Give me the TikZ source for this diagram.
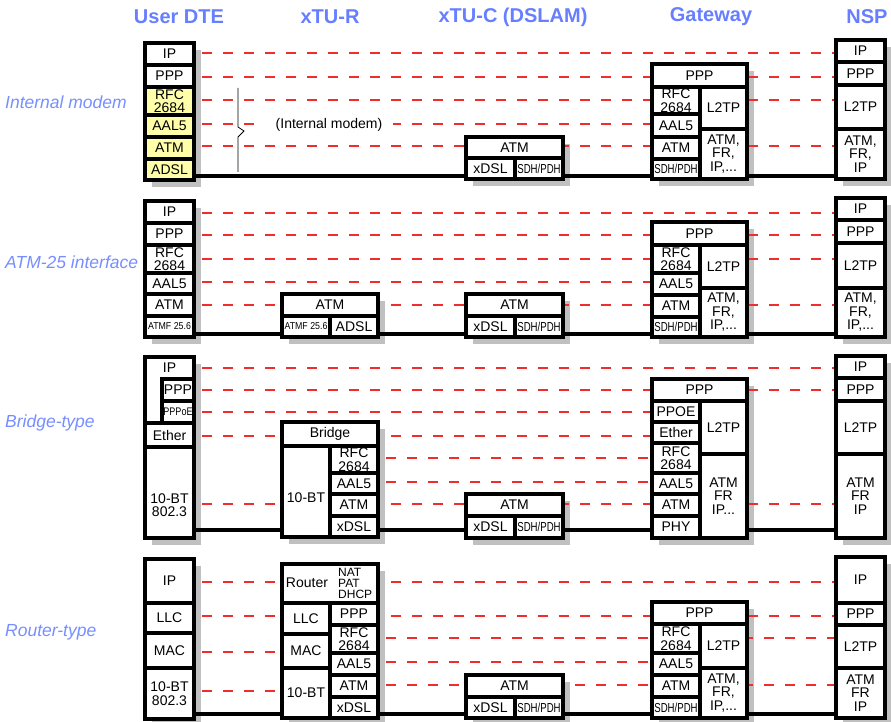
\documentclass[tikz,border=0pt]{standalone}
\usepackage{graphicx}
\usepackage{fontspec}
\setmainfont{Liberation Sans}
\usetikzlibrary{backgrounds}
\definecolor{headblue}{RGB}{102,126,255}
\definecolor{rowblue}{RGB}{118,142,255}
\definecolor{dashred}{RGB}{240,45,45}
\definecolor{shadowgray}{RGB}{192,192,192}
\definecolor{modemyellow}{RGB}{255,255,170}

% one layer of a protocol stack, given by its corners
\newcommand{\cell}[7][]{%
  \node[cell,#1,minimum width={(#5-#3)*1pt},minimum height={(#6-#4)*1pt}]
    (#2) at ({(#3+#5)/2},{(#4+#6)/2}) {#7};}
% peer relation and physical link between two stacks
\newcommand{\peer}[3]{\draw[peer] (#1.east |- 0,#3) -- (#2.west |- 0,#3);}
\newcommand{\wire}[3]{\draw[wire] (#1.east |- 0,#3) -- (#2.west |- 0,#3);}
\newcommand{\sdhpdh}{{\fontsize{13}{13}\selectfont\scalebox{0.74}[1]{SDH/PDH}}}
\newcommand{\atmf}{{\fontsize{10}{10}\selectfont\scalebox{0.88}[1]{ATMF 25.6}}}
\newcommand{\pppoe}{{\fontsize{11}{11}\selectfont\scalebox{0.82}[1]{PPPoE}}}

\begin{document}
\begin{tikzpicture}[
    x=1pt, y=-1pt,
    cell/.style={draw, line width=3.2pt, fill=white, inner sep=1pt, outer sep=0pt,
                 align=center, font=\fontsize{14}{13.5}\selectfont},
    txt/.style={inner sep=0pt, align=center, font=\fontsize{14}{13.5}\selectfont},
    head/.style={font=\fontsize{20}{20}\selectfont\bfseries, text=headblue},
    sect/.style={anchor=west, inner sep=0pt, font=\fontsize{17.5}{17.5}\selectfont\itshape, text=rowblue},
    peer/.style={draw=dashred, line width=1.2pt, dash pattern=on 10pt off 11pt, dash phase=13pt},
    wire/.style={line width=3.2pt}
]
    \useasboundingbox (0,0) rectangle (891,722);

    % Column titles
    \node[head] (hdte) at (179,17) {User DTE};
    \node[head] (hntr) at (330,17) {xTU-R};
    \node[head] (hdslam) at (513,17) {xTU-C (DSLAM)};
    \node[head] (hgw) at (711,17) {Gateway};
    \node[head] (hnsp) at (867,17) {NSP};

    % Row titles
    \node[sect] (s1) at (5,102) {Internal modem};
    \node[sect] (s2) at (5,262) {ATM-25 interface};
    \node[sect] (s3) at (5,423) {Bridge-type};
    \node[sect] (s4) at (5,632) {Router-type};

    % Internal modem
    \cell{a1ip}{145}{43}{194}{65}{IP}
    \cell{a1ppp}{145}{65}{194}{87}{PPP}
    \cell[fill=modemyellow]{a1rfc}{145}{87}{194}{115}{RFC\\2684}
    \cell[fill=modemyellow]{a1aal}{145}{115}{194}{137}{AAL5}
    \cell[fill=modemyellow]{a1atm}{145}{137}{194}{159}{ATM}
    \cell[fill=modemyellow]{a1phy}{145}{159}{194}{180}{ADSL}
    \cell{c1atm}{466}{137}{563}{158}{ATM}
    \cell{c1dsl}{466}{158}{515}{179}{xDSL}
    \cell{c1sdh}{515}{158}{563}{179}{\sdhpdh}
    \cell{g1ppp}{652}{64}{747}{87}{PPP}
    \cell{g1rfc}{652}{87}{700}{114}{RFC\\2684}
    \cell{g1aal}{652}{114}{700}{137}{AAL5}
    \cell{g1atm}{652}{137}{700}{159}{ATM}
    \cell{g1sdh}{652}{159}{700}{179}{\sdhpdh}
    \cell{g1l2tp}{700}{87}{747}{129}{L2TP}
    \cell{g1wan}{700}{129}{747}{179}{ATM,\\FR,\\IP,...}
    \cell{n1ip}{836}{40}{885}{62}{IP}
    \cell{n1ppp}{836}{62}{885}{85}{PPP}
    \cell{n1l2tp}{836}{85}{885}{129}{L2TP}
    \cell{n1wan}{836}{129}{885}{179}{ATM,\\FR,\\IP}
    \node[txt, fill=white, inner xsep=11pt, inner ysep=2pt] (imodem) at (329,125) {(Internal modem)};

    % ATM-25 interface
    \cell{a2ip}{145}{201}{194}{223}{IP}
    \cell{a2ppp}{145}{223}{194}{245}{PPP}
    \cell{a2rfc}{145}{245}{194}{273}{RFC\\2684}
    \cell{a2aal}{145}{273}{194}{294}{AAL5}
    \cell{a2atm}{145}{294}{194}{316}{ATM}
    \cell{a2phy}{145}{316}{194}{337}{\atmf}
    \cell{r2atm}{282}{294}{378}{316}{ATM}
    \cell{r2atmf}{282}{316}{330}{337}{\atmf}
    \cell{r2dsl}{330}{316}{378}{337}{ADSL}
    \cell{c2atm}{466}{294}{563}{316}{ATM}
    \cell{c2dsl}{466}{316}{515}{337}{xDSL}
    \cell{c2sdh}{515}{316}{563}{337}{\sdhpdh}
    \cell{g2ppp}{652}{222}{747}{245}{PPP}
    \cell{g2rfc}{652}{245}{700}{273}{RFC\\2684}
    \cell{g2aal}{652}{273}{700}{295}{AAL5}
    \cell{g2atm}{652}{295}{700}{317}{ATM}
    \cell{g2sdh}{652}{317}{700}{337}{\sdhpdh}
    \cell{g2l2tp}{700}{245}{747}{288}{L2TP}
    \cell{g2wan}{700}{288}{747}{337}{ATM,\\FR,\\IP,...}
    \cell{n2ip}{836}{198}{885}{220}{IP}
    \cell{n2ppp}{836}{220}{885}{243}{PPP}
    \cell{n2l2tp}{836}{243}{885}{288}{L2TP}
    \cell{n2wan}{836}{288}{885}{337}{ATM,\\FR,\\IP,...}

    % Bridge-type
    \cell{a3top}{145}{357}{194}{423}{}
    \node[txt] (a3ip) at (169.5,368) {IP};
    \cell{a3ppp}{162}{379}{194}{401}{PPP}
    \cell{a3pppoe}{162}{401}{194}{423}{\pppoe}
    \cell{a3eth}{145}{423}{194}{447}{Ether}
    \cell{a3phy}{145}{447}{194}{538}{}
    \node[txt] (a3phyt) at (169.5,505) {10-BT\\802.3};
    \cell{r3br}{282}{422}{378}{446}{Bridge}
    \cell{r3eth}{282}{446}{330}{537}{}
    \node[txt] (r3etht) at (306,498) {10-BT};
    \cell{r3rfc}{330}{446}{378}{473}{RFC\\2684}
    \cell{r3aal}{330}{473}{378}{494}{AAL5}
    \cell{r3atm}{330}{494}{378}{516}{ATM}
    \cell{r3dsl}{330}{516}{378}{537}{xDSL}
    \cell{c3atm}{466}{494}{563}{516}{ATM}
    \cell{c3dsl}{466}{516}{515}{538}{xDSL}
    \cell{c3sdh}{515}{516}{563}{538}{\sdhpdh}
    \cell{g3ppp}{652}{379}{747}{401}{PPP}
    \cell{g3pppoe}{652}{401}{700}{422}{PPOE}
    \cell{g3eth}{652}{422}{700}{443}{Ether}
    \cell{g3rfc}{652}{443}{700}{473}{RFC\\2684}
    \cell{g3aal}{652}{473}{700}{494}{AAL5}
    \cell{g3atm}{652}{494}{700}{516}{ATM}
    \cell{g3phy}{652}{516}{700}{538}{PHY}
    \cell{g3l2tp}{700}{401}{747}{454}{L2TP}
    \cell{g3wan}{700}{454}{747}{538}{ATM\\FR\\IP...}
    \cell{n3ip}{836}{356}{885}{378}{IP}
    \cell{n3ppp}{836}{378}{885}{401}{PPP}
    \cell{n3l2tp}{836}{401}{885}{454}{L2TP}
    \cell{n3wan}{836}{454}{885}{538}{ATM\\FR\\IP}

    % Router-type
    \cell{a4ip}{145}{559}{194}{603}{IP}
    \cell{a4llc}{145}{603}{194}{633}{LLC}
    \cell{a4mac}{145}{633}{194}{668}{MAC}
    \cell{a4phy}{145}{668}{194}{719}{10-BT\\802.3}
    \cell{r4rt}{282}{564}{378}{603}{}
    \node[txt] (r4rtl) at (307,583) {Router};
    \node[txt, anchor=west, align=left, font=\fontsize{12}{11}\selectfont] (r4nat) at (338,583) {NAT\\PAT\\DHCP};
    \cell{r4llc}{282}{603}{330}{634}{LLC}
    \cell{r4mac}{282}{634}{330}{668}{MAC}
    \cell{r4eth}{282}{668}{330}{718}{10-BT}
    \cell{r4ppp}{330}{603}{378}{625}{PPP}
    \cell{r4rfc}{330}{625}{378}{653}{RFC\\2684}
    \cell{r4aal}{330}{653}{378}{675}{AAL5}
    \cell{r4atm}{330}{675}{378}{697}{ATM}
    \cell{r4dsl}{330}{697}{378}{718}{xDSL}
    \cell{c4atm}{466}{675}{563}{697}{ATM}
    \cell{c4dsl}{466}{697}{515}{718}{xDSL}
    \cell{c4sdh}{515}{697}{563}{718}{\sdhpdh}
    \cell{g4ppp}{652}{602}{747}{624}{PPP}
    \cell{g4rfc}{652}{624}{700}{653}{RFC\\2684}
    \cell{g4aal}{652}{653}{700}{675}{AAL5}
    \cell{g4atm}{652}{675}{700}{697}{ATM}
    \cell{g4sdh}{652}{697}{700}{718}{\sdhpdh}
    \cell{g4l2tp}{700}{624}{747}{668}{L2TP}
    \cell{g4wan}{700}{668}{747}{718}{ATM,\\FR,\\IP,...}
    \cell{n4ip}{836}{557}{885}{603}{IP}
    \cell{n4ppp}{836}{603}{885}{625}{PPP}
    \cell{n4l2tp}{836}{625}{885}{668}{L2TP}
    \cell{n4wan}{836}{668}{885}{718}{ATM\\FR\\IP}

    \begin{pgfonlayer}{background}
    % Shadows
    \foreach \xa/\ya/\xb/\yb in {145/43/194/180, 466/137/563/179, 652/64/747/179, 836/40/885/179,
        145/201/194/337, 282/294/378/337, 466/294/563/337, 652/222/747/337, 836/198/885/337,
        145/357/194/538, 282/422/378/537, 466/494/563/538, 652/379/747/538, 836/356/885/538,
        145/559/194/719, 282/564/378/718, 466/675/563/718, 652/602/747/718, 836/557/885/718}
        \fill[shadowgray] (\xa+7,\ya+7) rectangle (\xb+7,\yb+7);

    % Peer layers and links
    \peer{a1ip}{n1ip}{53}
    \peer{a1ppp}{n1ppp}{77}
    \peer{a1rfc}{n1l2tp}{100}
    \peer{a1aal}{g1aal}{124}
    \peer{a1atm}{n1wan}{146}
    \wire{a1phy}{n1wan}{176}
    \draw[line width=0.8pt] (238,88) -- (238,127) -- (244,131) -- (238,137) -- (238,172);

    \peer{a2ip}{n2ip}{213}
    \peer{a2ppp}{n2ppp}{235}
    \peer{a2rfc}{n2l2tp}{259}
    \peer{a2aal}{g2aal}{282}
    \peer{a2atm}{n2wan}{305}
    \wire{a2phy}{n2wan}{334}

    \peer{a3top}{n3ip}{368}
    \peer{a3ppp}{n3ppp}{390}
    \peer{a3pppoe}{g3pppoe}{412}
    \peer{a3eth}{g3eth}{436}
    \peer{r3rfc}{g3rfc}{458}
    \peer{r3aal}{g3aal}{482}
    \peer{a3phy}{n3wan}{504}
    \wire{a3phy}{n3wan}{530}

    \peer{a4ip}{n4ip}{582}
    \peer{a4llc}{n4ppp}{616}
    \peer{r4rfc}{n4l2tp}{638}
    \peer{a4mac}{r4mac}{652}
    \peer{r4aal}{g4aal}{662}
    \peer{r4atm}{n4wan}{685}
    \peer{a4phy}{r4eth}{691}
    \wire{a4phy}{n4wan}{714}
    \end{pgfonlayer}
\end{tikzpicture}
\end{document}
